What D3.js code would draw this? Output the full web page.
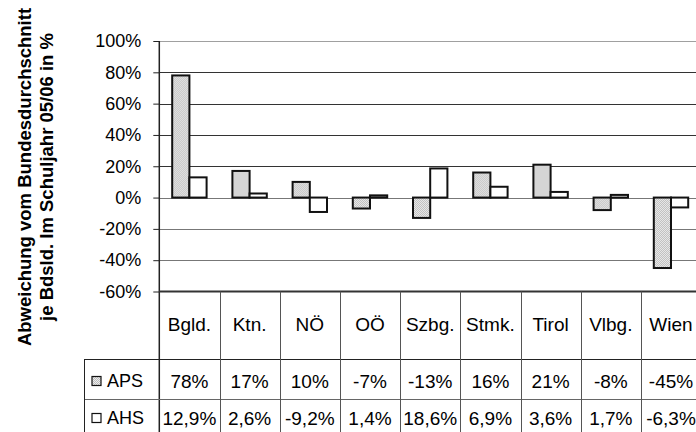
<!DOCTYPE html>
<html>
<head>
<meta charset="utf-8">
<script src="https://cdn.jsdelivr.net/npm/d3@7"></script>
<style>
  body { margin: 0; background: #fff; }
  text { font-family: "Liberation Sans", Arial, sans-serif; fill: #000; }
</style>
</head>
<body>
<div id="chart"></div>
<script>
// data
const laender = ["Bgld.", "Ktn.", "NÖ", "OÖ", "Szbg.", "Stmk.", "Tirol", "Vlbg.", "Wien"];
const aps = [78, 17, 10, -7, -13, 16, 21, -8, -45];
const ahs = [12.9, 2.6, -9.2, 1.4, 18.6, 6.9, 3.6, 1.7, -6.3];
const apsLabels = ["78%", "17%", "10%", "-7%", "-13%", "16%", "21%", "-8%", "-45%"];
const ahsLabels = ["12,9%", "2,6%", "-9,2%", "1,4%", "18,6%", "6,9%", "3,6%", "1,7%", "-6,3%"];
const yTicks = [100, 80, 60, 40, 20, 0, -20, -40, -60];
const series = ["APS", "AHS"];

const W = 696, H = 432;
const plotLeft = 159.3, colW = 60.2;
const plotTop = 41, plotBottom = 291.5;

const svg = d3.select("#chart").append("svg")
    .attr("width", W)
    .attr("height", H);

// dotted grey fill of the APS bars
const defs = svg.append("defs");
const pat = defs.append("pattern")
    .attr("id", "dots")
    .attr("width", 2).attr("height", 2)
    .attr("patternUnits", "userSpaceOnUse");
pat.append("rect").attr("width", 2).attr("height", 2).attr("fill", "#ececec");
pat.append("rect").attr("width", 1).attr("height", 1).attr("fill", "#bdbdbd");
pat.append("rect").attr("x", 1).attr("y", 1).attr("width", 1).attr("height", 1).attr("fill", "#bdbdbd");

const x = d3.scaleBand()
    .domain(laender)
    .range([plotLeft, plotLeft + laender.length * colW]);

const xs = d3.scaleBand()
    .domain(series)
    .range([0, x.bandwidth()])
    .paddingOuter(0.75);

const y = d3.scaleLinear()
    .domain([-60, 100])
    .range([plotBottom, plotTop]);

// gridlines
svg.append("g")
    .selectAll("line")
    .data(yTicks.filter(d => d > -60))
    .join("line")
    .attr("x1", plotLeft).attr("x2", W)
    .attr("y1", d => Math.round(y(d)) + 0.5)
    .attr("y2", d => Math.round(y(d)) + 0.5)
    .attr("stroke", d => d === 100 ? "#a0a0a0" : (d > 0 ? "#333" : "#777"))
    .attr("stroke-width", 1);

// y axis
const yAxis = svg.append("g")
    .attr("transform", `translate(${plotLeft},0)`)
    .call(d3.axisLeft(y).tickValues(yTicks).tickSize(6).tickPadding(12).tickFormat(d => d + "%"));
yAxis.select(".domain").remove();
yAxis.selectAll(".tick line").attr("stroke", "#222");
yAxis.selectAll("text").style("font-size", "18px").attr("fill", "#000");

// bars
const groups = svg.append("g")
    .selectAll("g")
    .data(laender)
    .join("g")
    .attr("transform", d => `translate(${x(d)},0)`);

groups.append("rect")
    .attr("x", xs("APS"))
    .attr("y", (d, i) => y(Math.max(0, aps[i])))
    .attr("width", xs.bandwidth())
    .attr("height", (d, i) => Math.abs(y(aps[i]) - y(0)))
    .attr("fill", "url(#dots)")
    .attr("stroke", "#111")
    .attr("stroke-width", 2);

groups.append("rect")
    .attr("x", xs("AHS"))
    .attr("y", (d, i) => y(Math.max(0, ahs[i])))
    .attr("width", xs.bandwidth())
    .attr("height", (d, i) => Math.abs(y(ahs[i]) - y(0)))
    .attr("fill", "#fff")
    .attr("stroke", "#111")
    .attr("stroke-width", 2);

// vertical axis line
svg.append("line")
    .attr("x1", plotLeft).attr("x2", plotLeft)
    .attr("y1", plotTop).attr("y2", H)
    .attr("stroke", "#222").attr("stroke-width", 1.5);

// data table
const rowApsTop = 359, rowAhsTop = 399;

svg.append("line")
    .attr("x1", plotLeft).attr("x2", W)
    .attr("y1", plotBottom).attr("y2", plotBottom)
    .attr("stroke", "#333").attr("stroke-width", 2);

svg.append("g")
    .selectAll("line")
    .data([rowApsTop, rowAhsTop])
    .join("line")
    .attr("x1", 84).attr("x2", W)
    .attr("y1", d => d + 0.5).attr("y2", d => d + 0.5)
    .attr("stroke", (d, i) => i === 0 ? "#222" : "#666");

svg.append("line")
    .attr("x1", 84.5).attr("x2", 84.5)
    .attr("y1", rowApsTop).attr("y2", H)
    .attr("stroke", "#222");

svg.append("g")
    .selectAll("line")
    .data(laender.slice(1))
    .join("line")
    .attr("x1", d => Math.round(x(d)) + 0.5)
    .attr("x2", d => Math.round(x(d)) + 0.5)
    .attr("y1", plotBottom).attr("y2", H)
    .attr("stroke", "#555");

svg.append("g")
    .selectAll("text")
    .data(laender)
    .join("text")
    .attr("x", d => x(d) + x.bandwidth() / 2)
    .attr("y", 324)
    .attr("text-anchor", "middle")
    .attr("dominant-baseline", "central")
    .style("font-size", "19px")
    .text(d => d);

svg.append("g")
    .selectAll("text")
    .data(apsLabels)
    .join("text")
    .attr("x", (d, i) => x(laender[i]) + x.bandwidth() / 2)
    .attr("y", 381)
    .attr("text-anchor", "middle")
    .attr("dominant-baseline", "central")
    .style("font-size", "19px")
    .text(d => d);

svg.append("g")
    .selectAll("text")
    .data(ahsLabels)
    .join("text")
    .attr("x", (d, i) => x(laender[i]) + x.bandwidth() / 2)
    .attr("y", 418)
    .attr("text-anchor", "middle")
    .attr("dominant-baseline", "central")
    .style("font-size", "19px")
    .text(d => d);

// legend keys in the table
const keys = [{ name: "APS", fill: "url(#dots)", yc: 381 }, { name: "AHS", fill: "#fff", yc: 418 }];
keys.forEach(k => {
    svg.append("rect")
        .attr("x", 92).attr("y", k.yc - 4.5)
        .attr("width", 9).attr("height", 9)
        .attr("fill", k.fill)
        .attr("stroke", "#111").attr("stroke-width", 1.2);
    svg.append("text")
        .attr("x", 107).attr("y", k.yc)
        .attr("dominant-baseline", "central")
        .style("font-size", "18px")
        .text(k.name);
});

// y axis title
const title = svg.append("text")
    .attr("transform", "translate(25,177) rotate(-90)")
    .attr("text-anchor", "middle")
    .style("font-size", "18.5px")
    .style("font-weight", "bold");
title.append("tspan").attr("x", 0).attr("dy", "0.35em").text("Abweichung vom Bundesdurchschnitt");
title.append("tspan").attr("x", 0).attr("dy", "22").text("je Bdsld. Im Schuljahr 05/06 in %");
</script>
</body>
</html>
